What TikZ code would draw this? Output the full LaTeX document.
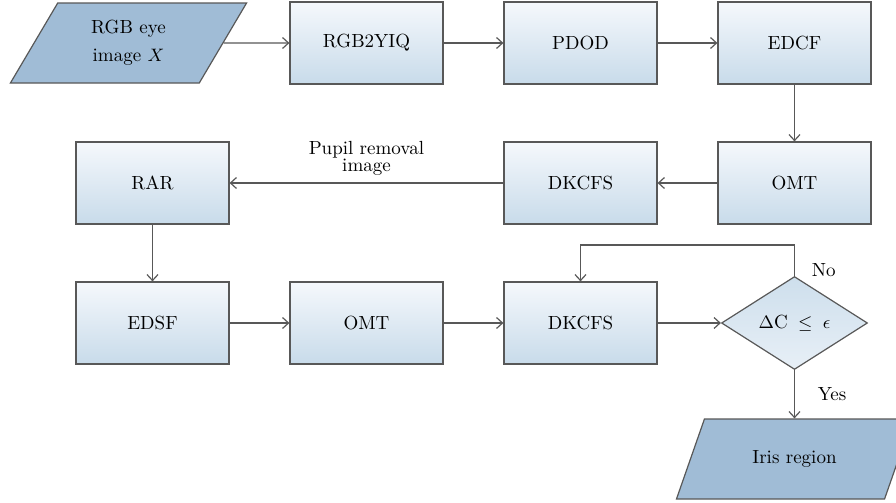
\documentclass[tikz,border=0pt]{standalone}
\usepackage{fontspec}
\usepackage{tikz}
\usetikzlibrary{shapes,arrows.meta}
\definecolor{boxtop}{RGB}{245,248,252}
\definecolor{boxbot}{RGB}{200,219,234}
\definecolor{datafill}{RGB}{160,188,214}
\definecolor{edgegray}{RGB}{88,88,88}
\tikzstyle{block} = [draw=edgegray, line width=0.6pt, top color=boxtop,
    bottom color=boxbot, rectangle, minimum height=41pt, minimum width=76.5pt]
\tikzstyle{data} = [draw=edgegray, line width=0.6pt, fill=datafill, trapezium,
    trapezium left angle=63.4, trapezium right angle=116.6,
    trapezium stretches=true, minimum height=40pt, minimum width=118.5pt,
    align=center]
\tikzstyle{decision} = [draw=edgegray, line width=0.6pt, top color=boxbot!90!white,
    bottom color=boxtop!70!boxbot, diamond, minimum width=73pt,
    minimum height=46.5pt, inner sep=0pt]
\tikzstyle{line} = [draw=edgegray, line width=0.6pt, ->]

\begin{document}
\begin{tikzpicture}[node distance=107pt, >={Straight Barb[length=3pt,width=5.5pt]},
    font=\fontsize{9.5}{14}\selectfont]

    \useasboundingbox (-64.25pt,21.5pt) rectangle (383.75pt,-230pt);

    % first row, left to right
    \node [data] (input) {RGB eye\\image $X$};
    \node [block, right of=input, node distance=119pt] (yiq) {RGB2YIQ};
    \node [block, right of=yiq] (pdod) {PDOD};
    \node [block, right of=pdod] (edcf) {EDCF};
    % second row, right to left
    \node [block, below of=edcf, node distance=70pt] (omt1) {OMT};
    \node [block, left of=omt1] (dkcfs1) {DKCFS};
    \node [block, left of=dkcfs1, node distance=214pt] (rar) {RAR};
    % third row, with the test
    \node [block, below of=rar, node distance=70pt] (edsf) {EDSF};
    \node [block, right of=edsf] (omt2) {OMT};
    \node [block, right of=omt2] (dkcfs2) {DKCFS};
    \node [decision, right of=dkcfs2] (test) {$\Delta\mathrm{C} \;\leq\; \epsilon$};
    \node [data, below of=test, node distance=68pt] (iris) {Iris region};

    % connectors
    \draw [line] (input.east) -- (yiq);
    \draw [line] (yiq) -- (pdod);
    \draw [line] (pdod) -- (edcf);
    \draw [line] (edcf) -- (omt1);
    \draw [line] (omt1) -- (dkcfs1);
    \draw [line] (dkcfs1) -- node [above, align=center,
        font=\fontsize{9.5}{8.5}\selectfont] {Pupil removal\\image} (rar);
    \draw [line] (rar) -- (edsf);
    \draw [line] (edsf) -- (omt2);
    \draw [line] (omt2) -- (dkcfs2);
    \draw [line] (dkcfs2) -- (test);
    % loop back when the test fails
    \draw [line] (test.north) -- node [pos=0.2, right=5pt] {No}
        ++(0,15.5pt) -| (dkcfs2);
    \draw [line] (test) -- node [right=8pt] {Yes} (iris);

\end{tikzpicture}
\end{document}
